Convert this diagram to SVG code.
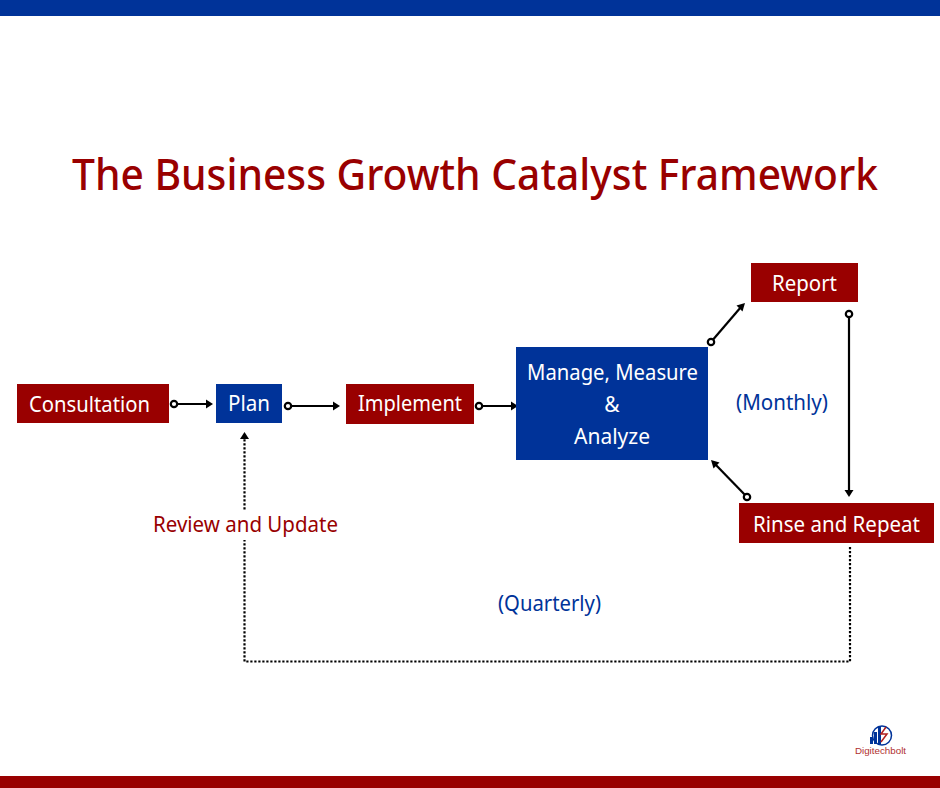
<svg xmlns="http://www.w3.org/2000/svg" width="940" height="788" viewBox="0 0 940 788">
<style>
text{font-family:"Noto Sans","Open Sans","Liberation Sans",sans-serif;text-anchor:middle}
.lbl{font-size:21px;fill:#fff}
.red{fill:#990000}
.blue{fill:#003399}
.note{font-size:21px}
.c{fill:none;stroke:#000;stroke-width:2.200}
.d{fill:none;stroke:#000;stroke-width:2.200;stroke-dasharray:2.200 1.800}
.o{fill:#fff;stroke:#000;stroke-width:2.200}
.h{fill:#000}
</style>
<rect width="940" height="788" fill="#fff"/>
<rect id="top-band" class="blue" width="940" height="16"/>
<rect id="bottom-band" class="red" y="776" width="940" height="12"/>
<text id="title" x="475" y="190" font-size="43" font-weight="500" textLength="806" lengthAdjust="spacingAndGlyphs" class="red">The Business Growth Catalyst Framework</text>
<g id="connectors">
<path class="c" d="M174 404H207"/><circle class="o" cx="174" cy="404" r="3.200"/><path class="h" d="M213 404l-7-4.500v9z"/>
<path class="c" d="M288 406H334"/><circle class="o" cx="288" cy="406" r="3.200"/><path class="h" d="M340 406l-7-4.500v9z"/>
<path class="c" d="M479 406H512"/><circle class="o" cx="479" cy="406" r="3.200"/><path class="h" d="M518 406l-7-4.500v9z"/>
<path class="c" d="M711 342L741 307"/><circle class="o" cx="711" cy="342" r="3.200"/><path class="h" d="M745 303l-8.500 2.500l6 6z"/>
<path class="c" d="M849 314V491"/><circle class="o" cx="849" cy="314" r="3.200"/><path class="h" d="M849 497l-4.500-7h9z"/>
<path class="c" d="M747 497L715 464"/><circle class="o" cx="747" cy="497" r="3.200"/><path class="h" d="M711 460l2.500 8.500l6-6z"/>
<path class="d" d="M850 547V661.500H244.500V438"/><path class="h" d="M244.500 432l-4.500 7h9z"/>
</g>
<g id="consultation"><rect class="red" x="17" y="384" width="152" height="39"/><text class="lbl" x="89.500" y="412" textLength="121" lengthAdjust="spacingAndGlyphs">Consultation</text></g>
<g id="plan"><rect class="blue" x="216" y="384" width="66" height="39"/><text class="lbl" x="249" y="411" textLength="42" lengthAdjust="spacingAndGlyphs">Plan</text></g>
<g id="implement"><rect class="red" x="346" y="384" width="128" height="40"/><text class="lbl" x="410" y="411" textLength="104" lengthAdjust="spacingAndGlyphs">Implement</text></g>
<g id="manage"><rect class="blue" x="516" y="347" width="192" height="113"/><text class="lbl" x="612.500" y="380" textLength="171" lengthAdjust="spacingAndGlyphs">Manage, Measure</text><text class="lbl" x="612" y="412">&amp;</text><text class="lbl" x="612" y="444" textLength="76" lengthAdjust="spacingAndGlyphs">Analyze</text></g>
<g id="report"><rect class="red" x="751" y="263" width="107" height="39"/><text class="lbl" x="804.500" y="291" textLength="65" lengthAdjust="spacingAndGlyphs">Report</text></g>
<g id="rinse"><rect class="red" x="739" y="503" width="195" height="40"/><text class="lbl" x="836.500" y="532" textLength="167" lengthAdjust="spacingAndGlyphs">Rinse and Repeat</text></g>
<text id="monthly" class="note blue" x="782" y="410" textLength="92" lengthAdjust="spacingAndGlyphs">(Monthly)</text>
<g id="review"><rect x="150" y="511" width="192" height="29" fill="#fff"/><text class="note red" x="245.500" y="532" textLength="185" lengthAdjust="spacingAndGlyphs">Review and Update</text></g>
<text id="quarterly" class="note blue" x="549.500" y="611" textLength="103" lengthAdjust="spacingAndGlyphs">(Quarterly)</text>
<g id="logo">
<path class="blue" d="M870 744v-7h3v7zM874 744v-12h3v12zM878 744v-17h3v17z"/>
<circle cx="882" cy="735.500" r="9.500" fill="none" stroke="#003399" stroke-width="1.500"/>
<path d="M886 727l-5 7h6l-6 8" fill="none" stroke="#b02020" stroke-width="1.500"/>
<text x="880.500" y="754" font-size="9.800" fill="#b03030" style="font-family:'Liberation Sans',sans-serif">Digitechbolt</text>
</g>
</svg>
